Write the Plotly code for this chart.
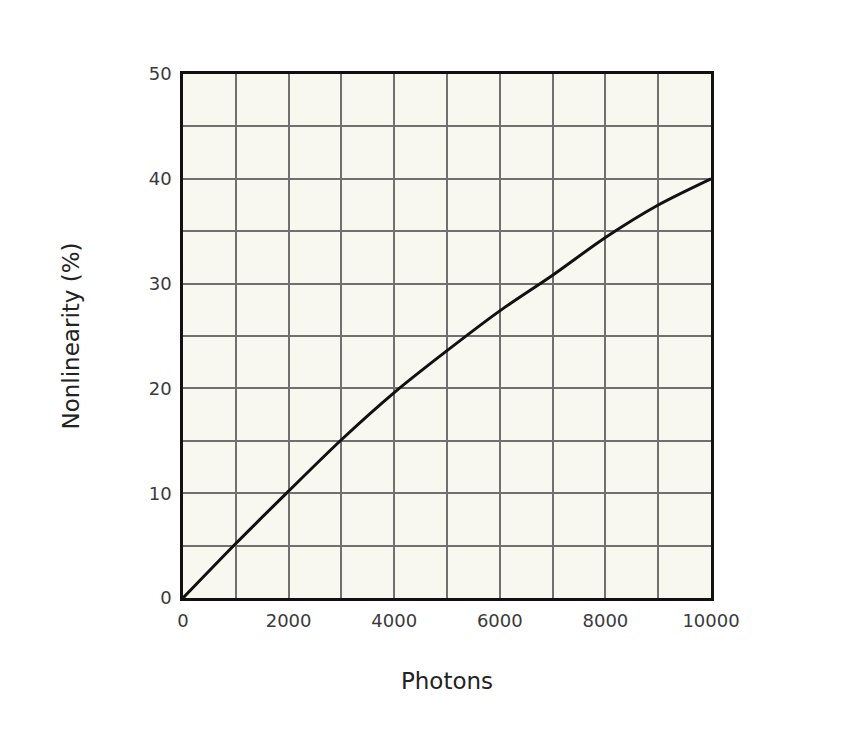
import plotly.graph_objects as go

photons = [0, 1000, 2000, 3000, 4000, 5000, 6000, 7000, 8000, 9000, 10000]
nonlinearity = [0, 5.2, 10.2, 15.1, 19.6, 23.6, 27.4, 30.8, 34.4, 37.5, 40.0]
x_ticks = [0, 2000, 4000, 6000, 8000, 10000]
y_ticks = [0, 10, 20, 30, 40, 50]

fig = go.Figure()
fig.add_trace(go.Scatter(
    x=photons, y=nonlinearity, mode="lines",
    line=dict(color="#111111", width=3, shape="spline", smoothing=0.8),
    showlegend=False, hoverinfo="skip",
))

font_family = "DejaVu Sans, Verdana, sans-serif"
axis_common = dict(
    showline=True, linecolor="#111111", linewidth=2.5, mirror=True,
    gridcolor="#707070", gridwidth=1.5, zeroline=False, ticks="",
    ticklabelstandoff=5,
    tickfont=dict(family=font_family, size=18, color="#3a3a3a"),
)

fig.update_layout(
    width=833, height=723,
    margin=dict(l=175, r=130, t=66, b=133),
    paper_bgcolor="white", plot_bgcolor="#f8f7f0",
    xaxis=dict(range=[0, 10000], tickvals=x_ticks, ticktext=[str(v) for v in x_ticks],
               minor=dict(dtick=1000, showgrid=True, gridcolor="#707070", gridwidth=1.5),
               title=dict(text="Photons", font=dict(family=font_family, size=23, color="#222222"), standoff=43),
               **axis_common),
    yaxis=dict(range=[0, 50], tickvals=y_ticks, ticktext=[str(v) for v in y_ticks],
               minor=dict(dtick=5, showgrid=True, gridcolor="#707070", gridwidth=1.5),
               title=dict(text="Nonlinearity (%)", font=dict(family=font_family, size=23, color="#222222"), standoff=63),
               **axis_common),
)

fig.write_html("out.html")
